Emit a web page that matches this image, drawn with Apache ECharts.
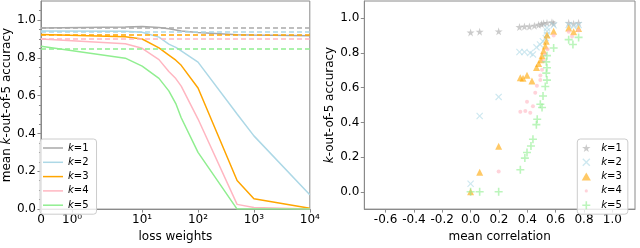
<!DOCTYPE html>
<html><head><meta charset="utf-8">
<script src="https://cdn.jsdelivr.net/npm/echarts@6/dist/echarts.min.js"></script>
<style>html,body{margin:0;padding:0;background:#fff}#c{width:640px;height:248px}</style>
</head><body><div id="c"></div>
<script>
// ---------- data: left panel (accuracy vs loss weight) ----------
const lossWeights = [0, 5, 10, 20, 30, 40, 50, 100, 500, 1000, 10000];
const accK1 = [0.957, 0.962, 0.965, 0.960, 0.953, 0.947, 0.941, 0.934, 0.922, 0.920, 0.916];
const accK2 = [0.941, 0.940, 0.935, 0.909, 0.872, 0.855, 0.837, 0.777, 0.503, 0.387, 0.076];
const accK3 = [0.923, 0.911, 0.899, 0.852, 0.814, 0.787, 0.760, 0.640, 0.151, 0.055, 0.004];
const accK4 = [0.899, 0.874, 0.850, 0.790, 0.727, 0.690, 0.650, 0.476, 0.025, 0.008, 0.000];
const accK5 = [0.861, 0.798, 0.756, 0.691, 0.625, 0.558, 0.483, 0.300, 0.000, 0.000, 0.000];
const baselineAcc = [0.958, 0.941, 0.919, 0.898, 0.849];
const lossTicks = [0, 1, 10, 100, 1000, 10000];
const lossTickLabels = ['0', '10⁰', '10¹', '10²', '10³', '10⁴'];
const accTicks = [0, 0.2, 0.4, 0.6, 0.8, 1.0];
const accMinorTicks = [0.05, 0.1, 0.15, 0.25, 0.3, 0.35, 0.45, 0.5, 0.55, 0.65, 0.7, 0.75, 0.85, 0.9, 0.95, 1.05];

// ---------- data: right panel (accuracy vs mean correlation) ----------
const corrK1 = [[0.0,0.919],[0.064,0.923],[0.198,0.925],[0.345,0.950],[0.38,0.953],[0.415,0.953],[0.45,0.958],[0.48,0.963],[0.50,0.967],[0.515,0.972],[0.539,0.974],[0.574,0.978],[0.586,0.970],[0.692,0.974],[0.727,0.969],[0.762,0.974]];
const corrK2 = [[0.0,0.046],[0.064,0.437],[0.198,0.547],[0.345,0.806],[0.38,0.806],[0.42,0.800],[0.44,0.792],[0.465,0.833],[0.49,0.849],[0.51,0.868],[0.53,0.886],[0.539,0.905],[0.539,0.925],[0.539,0.945],[0.586,0.960],[0.692,0.962],[0.727,0.955],[0.762,0.962]];
const corrK3 = [[0.0,0.0],[0.064,0.112],[0.198,0.262],[0.351,0.657],[0.37,0.654],[0.398,0.672],[0.433,0.638],[0.465,0.716],[0.48,0.739],[0.497,0.761],[0.504,0.785],[0.515,0.813],[0.527,0.840],[0.534,0.868],[0.539,0.904],[0.586,0.926],[0.692,0.945],[0.727,0.923],[0.762,0.941]];
const corrK4 = [[0.198,0.117],[0.351,0.461],[0.386,0.466],[0.421,0.455],[0.398,0.519],[0.44,0.493],[0.456,0.571],[0.468,0.611],[0.492,0.644],[0.492,0.671],[0.504,0.703],[0.515,0.754],[0.527,0.791],[0.543,0.822],[0.586,0.901],[0.692,0.923],[0.716,0.895],[0.762,0.930]];
const corrK5 = [[0.0,0.0],[0.064,0.0],[0.198,0.0],[0.351,0.127],[0.383,0.194],[0.398,0.226],[0.426,0.264],[0.44,0.303],[0.464,0.387],[0.47,0.418],[0.492,0.505],[0.504,0.486],[0.511,0.552],[0.527,0.607],[0.539,0.644],[0.534,0.684],[0.539,0.715],[0.534,0.749],[0.539,0.785],[0.586,0.829],[0.692,0.877],[0.722,0.849],[0.762,0.890]];
const corrTicks = [-0.6, -0.4, -0.2, 0.0, 0.2, 0.4, 0.6, 0.8, 1.0];

const kNames = ['k=1', 'k=2', 'k=3', 'k=4', 'k=5'];
const colors = ['#A9A9A9', '#ADD8E6', '#FFA500', '#FFB6C1', '#90EE90'];

// ---------- helpers ----------
function symlog(x) { // matplotlib symlog, linthresh=2, linscale=1, base 10
  const L = 2, adj = 1 / (1 - 0.1), a = Math.abs(x);
  return a <= L ? x * adj : Math.sign(x) * L * (adj + Math.log10(a / L));
}
const FONT = 'DejaVu Sans';
const GRAY = '#8a8a8a';
const richK = {
  i: { fontStyle: 'italic', fontFamily: FONT, fontSize: 10, color: '#000' },
  n: { fontFamily: FONT, fontSize: 10, color: '#000' }
};
const legendFmt = name => '{i|k}{n|=' + name.replace(/[^0-9]/g, '') + '}';

const SYM = {
  star: 'path://M50,0 L61,35 L98,35 L68,57 L79,91 L50,70 L21,91 L32,57 L2,35 L39,35 Z',
  x: 'path://M0,12 L12,0 L50,38 L88,0 L100,12 L62,50 L100,88 L88,100 L50,62 L12,100 L0,88 L38,50 Z',
  tri: 'path://M50,0 L100,87 L0,87 Z',
  dot: 'path://M0,0 M100,100 M30,50 A20,20 0 1 1 70,50 A20,20 0 1 1 30,50 Z',
  plus: 'path://M40,0 H60 V40 H100 V60 H60 V100 H40 V60 H0 V40 H40 Z'
};
const symbols = [SYM.star, SYM.x, SYM.tri, SYM.dot, SYM.plus];
const symSizes = [8, 7, 7, 10, 8];

const accSeries = [accK1, accK2, accK3, accK4, accK5];
const corrSeries = [corrK1, corrK2, corrK3, corrK4, corrK5];
const rightNames = kNames.map(n => n + '\u200b');

const axisCommon = {
  axisLine: { show: true, onZero: false, lineStyle: { color: GRAY, width: 1 } },
  splitLine: { show: false },
  axisLabel: { color: '#000', fontFamily: FONT, fontSize: 12, hideOverlap: false, showMinLabel: true, showMaxLabel: true }
};

const series = [];
accSeries.forEach((acc, i) => {
  series.push({
    name: kNames[i], type: 'line', xAxisIndex: 0, yAxisIndex: 0,
    data: lossWeights.map((w, j) => [symlog(w), acc[j]]),
    showSymbol: false, symbol: 'none', z: 3,
    lineStyle: { color: colors[i], width: 1.5 }, itemStyle: { color: colors[i] },
    markLine: {
      silent: true, symbol: 'none', label: { show: false },
      lineStyle: { color: colors[i], width: 1.5, type: [5, 3] },
      data: [{ yAxis: baselineAcc[i] }]
    }
  });
});
corrSeries.forEach((pts, i) => {
  series.push({
    name: rightNames[i], type: 'scatter', xAxisIndex: 1, yAxisIndex: 2,
    data: pts, symbol: symbols[i], symbolSize: symSizes[i],
    itemStyle: { color: colors[i], opacity: 0.6 }
  });
});

const legendBase = {
  orient: 'vertical', itemWidth: 20, itemGap: 2.3,
  backgroundColor: 'rgba(255,255,255,0.8)', borderColor: '#cccccc', borderWidth: 1, borderRadius: 3,
  formatter: legendFmt, selectedMode: false,
  textStyle: { fontFamily: FONT, fontSize: 10, lineHeight: 12, rich: richK }
};

const option = {
  animation: false,
  backgroundColor: '#fff',
  grid: [
    { left: 34.7, right: 330.2, top: 1, bottom: 29, show: true, borderColor: GRAY, borderWidth: 1 },
    { left: 364.3, right: 5, top: 1, bottom: 28.3, show: true, borderColor: GRAY, borderWidth: 1 }
  ],
  legend: [
    Object.assign({}, legendBase, { left: 40, top: 139, padding: [3, 8, 3, 3], itemHeight: 1.5, icon: 'rect', data: kNames }),
    Object.assign({}, legendBase, { left: 577.3, top: 139, padding: [3, 6, 3, 4.4], itemHeight: 8, data: rightNames, symbolKeepAspect: true })
  ],
  xAxis: [
    Object.assign({}, axisCommon, {
      type: 'value', gridIndex: 0, min: 0, max: symlog(10000),
      name: 'loss weights', nameLocation: 'middle', nameGap: 15,
      nameTextStyle: { fontFamily: FONT, fontSize: 12, color: '#000' },
      axisTick: { show: true, length: 3.5, lineStyle: { color: GRAY }, customValues: lossTicks.map(symlog) },
      axisLabel: Object.assign({}, axisCommon.axisLabel, {
        margin: 5, customValues: lossTicks.map(symlog),
        formatter: v => {
          let best = 0, d = Infinity;
          lossTicks.forEach((t, k) => { const dd = Math.abs(symlog(t) - v); if (dd < d) { d = dd; best = k; } });
          return lossTickLabels[best];
        }
      })
    }),
    Object.assign({}, axisCommon, {
      type: 'value', gridIndex: 1, min: -0.75, max: 1.16,
      name: 'mean correlation', nameLocation: 'middle', nameGap: 15,
      nameTextStyle: { fontFamily: FONT, fontSize: 12, color: '#000' },
      axisTick: { show: true, length: 3.5, lineStyle: { color: GRAY }, customValues: corrTicks },
      axisLabel: Object.assign({}, axisCommon.axisLabel, {
        margin: 5, customValues: corrTicks,
        formatter: v => (v < -1e-9 ? '-' : '') + Math.abs(v).toFixed(1)
      })
    })
  ],
  yAxis: [
    Object.assign({}, axisCommon, {
      type: 'value', gridIndex: 0, min: 0, max: 1.1,
      name: 'mean {i|k}-out-of-5 accuracy', nameLocation: 'middle', nameGap: 26,
      nameTextStyle: { fontFamily: FONT, fontSize: 12, color: '#000', rich: { i: { fontStyle: 'italic', fontFamily: FONT, fontSize: 12, color: '#000' } } },
      axisTick: { show: true, length: 3.5, lineStyle: { color: GRAY }, customValues: accTicks },
      axisLabel: Object.assign({}, axisCommon.axisLabel, { margin: 5, customValues: accTicks, formatter: v => v.toFixed(1) })
    }),
    {
      type: 'value', gridIndex: 0, min: 0, max: 1.1, position: 'left',
      axisLine: { show: false, onZero: false }, splitLine: { show: false }, axisLabel: { show: false },
      axisTick: { show: true, length: 2, lineStyle: { color: GRAY }, customValues: accMinorTicks }
    },
    Object.assign({}, axisCommon, {
      type: 'value', gridIndex: 1, min: -0.1, max: 1.1,
      name: '{i|k}-out-of-5 accuracy', nameLocation: 'middle', nameGap: 23,
      nameTextStyle: { fontFamily: FONT, fontSize: 12, color: '#000', rich: { i: { fontStyle: 'italic', fontFamily: FONT, fontSize: 12, color: '#000' } } },
      axisTick: { show: true, length: 3.5, lineStyle: { color: GRAY }, customValues: accTicks },
      axisLabel: Object.assign({}, axisCommon.axisLabel, { margin: 5, customValues: accTicks, formatter: v => v.toFixed(1) })
    })
  ],
  series: series
};
const chart = echarts.init(document.getElementById('c'), null, { renderer: 'canvas' });
chart.setOption(option);
</script></body></html>
